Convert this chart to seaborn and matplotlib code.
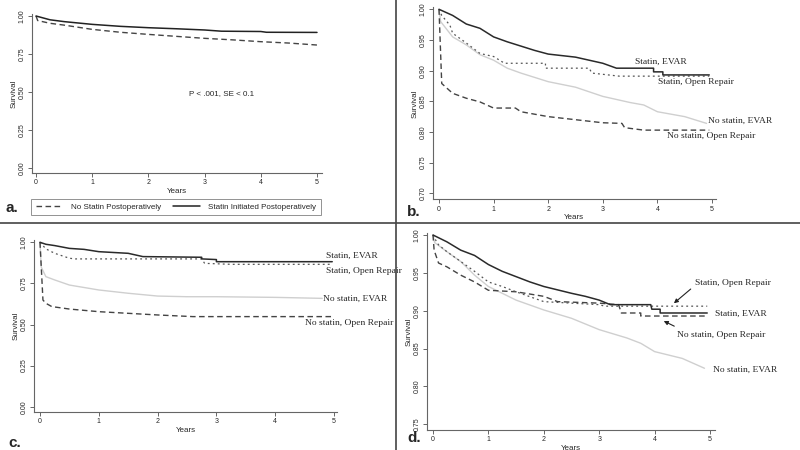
import pandas as pd
import matplotlib
matplotlib.use('Agg')
import matplotlib.pyplot as plt
from matplotlib.lines import Line2D
import seaborn as sns

# ---- Dados (curvas de sobrevida Kaplan-Meier) ----
# Painel a
a_t_statin = [0, 0.25, 0.5, 1, 1.5, 2, 2.5, 3, 3.3, 4, 4.1, 5]
a_s_statin = [1.0, 0.975, 0.963, 0.945, 0.932, 0.923, 0.916, 0.908, 0.900, 0.898, 0.893, 0.892]
a_t_nostatin = [0, 0.03, 0.25, 0.5, 1, 1.5, 2, 2.5, 3, 3.5, 4, 4.5, 5]
a_s_nostatin = [1.0, 0.97, 0.952, 0.94, 0.912, 0.893, 0.879, 0.866, 0.853, 0.843, 0.831, 0.822, 0.809]

# Painel b
b_t_se = [0, 0.25, 0.5, 0.75, 1, 1.25, 1.5, 1.75, 2, 2.5, 2.75, 3, 3.25, 3.93, 3.93, 4.1, 4.1, 4.95]
b_s_se = [1.0, 0.99, 0.976, 0.969, 0.955, 0.947, 0.94, 0.933, 0.927, 0.922, 0.917, 0.912, 0.904, 0.904, 0.898, 0.898, 0.893, 0.893]
b_t_so = [0, 0.05, 0.2, 0.25, 0.5, 0.75, 1, 1.2, 1.95, 1.95, 2.75, 2.8, 3.3, 4.95]
b_s_so = [1.0, 0.99, 0.974, 0.961, 0.945, 0.928, 0.923, 0.912, 0.912, 0.904, 0.904, 0.896, 0.891, 0.891]
b_t_ne = [0, 0.03, 0.25, 0.5, 0.75, 1, 1.25, 1.5, 2, 2.5, 3, 3.5, 3.75, 4, 4.5, 4.9]
b_s_ne = [1.0, 0.98, 0.955, 0.942, 0.926, 0.917, 0.904, 0.896, 0.882, 0.873, 0.858, 0.848, 0.844, 0.833, 0.825, 0.814]
b_t_no = [0, 0.05, 0.1, 0.25, 0.5, 0.75, 1, 1.4, 1.5, 2, 2.5, 3, 3.35, 3.4, 3.75, 4.95]
b_s_no = [1.0, 0.879, 0.875, 0.863, 0.855, 0.849, 0.839, 0.839, 0.833, 0.825, 0.82, 0.815, 0.814, 0.807, 0.803, 0.803]

# Painel c
c_t_se = [0, 0.1, 0.25, 0.5, 0.75, 1, 1.5, 1.75, 2.75, 2.75, 3, 3, 4.97]
c_s_se = [1.0, 0.988, 0.98, 0.963, 0.957, 0.943, 0.933, 0.913, 0.909, 0.899, 0.895, 0.882, 0.882]
c_t_so = [0, 0.1, 0.25, 0.5, 0.6, 2.75, 2.8, 3.25, 4.97]
c_s_so = [1.0, 0.96, 0.933, 0.903, 0.899, 0.899, 0.872, 0.866, 0.866]
c_t_ne = [0, 0.02, 0.1, 0.25, 0.5, 1, 1.5, 2, 2.5, 3, 4, 4.8]
c_s_ne = [1.0, 0.85, 0.791, 0.771, 0.74, 0.71, 0.69, 0.673, 0.669, 0.669, 0.665, 0.659]
c_t_no = [0, 0.05, 0.1, 0.2, 0.5, 1, 1.5, 2, 2.6, 4.97]
c_s_no = [1.0, 0.649, 0.629, 0.609, 0.594, 0.578, 0.568, 0.558, 0.548, 0.548]

# Painel d
d_t_se = [0, 0.25, 0.5, 0.75, 1, 1.25, 1.5, 1.75, 2, 2.5, 2.75, 3, 3.2, 3.93, 3.95, 4.1, 4.1, 4.95]
d_s_se = [1.0, 0.991, 0.98, 0.973, 0.961, 0.952, 0.945, 0.938, 0.932, 0.923, 0.919, 0.914, 0.908, 0.908, 0.902, 0.902, 0.897, 0.897]
d_t_so = [0, 0.05, 0.1, 0.25, 0.5, 0.75, 1, 1.25, 1.5, 2, 3, 3.1, 4.95]
d_s_so = [1.0, 0.993, 0.987, 0.978, 0.965, 0.952, 0.938, 0.932, 0.925, 0.912, 0.908, 0.906, 0.906]
d_t_ne = [0, 0.03, 0.25, 0.5, 0.75, 1, 1.5, 2, 2.5, 3, 3.5, 3.75, 4, 4.5, 4.9]
d_s_ne = [1.0, 0.99, 0.978, 0.965, 0.947, 0.932, 0.914, 0.901, 0.89, 0.875, 0.864, 0.857, 0.846, 0.837, 0.824]
d_t_no = [0, 0.02, 0.1, 0.25, 0.5, 0.75, 1, 1.5, 2, 2.25, 3, 3.35, 3.4, 3.75, 3.75, 4.95]
d_s_no = [1.0, 0.98, 0.963, 0.958, 0.947, 0.938, 0.927, 0.925, 0.919, 0.912, 0.91, 0.908, 0.897, 0.897, 0.893, 0.893]

grupos = ['Statin, EVAR', 'Statin, Open Repair', 'No statin, EVAR', 'No statin, Open Repair']

# estilos das linhas para cada grupo
estilo = {
    'Statin, EVAR': dict(color='#2a2a2a', linestyle='-', linewidth=1.1),
    'Statin, Open Repair': dict(color='#555555', linestyle=(0, (1.5, 2.5)), linewidth=0.9),
    'No statin, EVAR': dict(color='#cfcfcf', linestyle='-', linewidth=1.0),
    'No statin, Open Repair': dict(color='#444444', linestyle=(0, (4, 2.5)), linewidth=1.0),
}

sns.set_style('ticks')
plt.rcParams['font.family'] = ['Liberation Sans', 'DejaVu Sans']

W, H = 800, 450
fig = plt.figure(figsize=(8, 4.5), dpi=100)


def criar_eixo(x0, x5, xlim, ytop, ybot, vtop, vbot, ylim):
    # posiciona o eixo a partir das posicoes (em pixels) dos ticks
    px = (x5 - x0) / 5.0
    py = (ybot - ytop) / (vtop - vbot)
    esq = x0 + xlim[0] * px
    dir_ = x0 + xlim[1] * px
    topo = ytop - (ylim[1] - vtop) * py
    base = ybot + (vbot - ylim[0]) * py
    ax = fig.add_axes([esq / W, 1 - base / H, (dir_ - esq) / W, (base - topo) / H])
    ax.set_xlim(xlim)
    ax.set_ylim(ylim)
    sns.despine(ax=ax)
    for s in ['left', 'bottom']:
        ax.spines[s].set_color('#666666')
        ax.spines[s].set_linewidth(0.8)
    ax.tick_params(length=3, width=0.7, color='#666666', labelsize=5, pad=1.5)
    ax.set_xticks([0, 1, 2, 3, 4, 5])
    ax.set_xlabel('Years', fontsize=5.8, labelpad=1)
    ax.set_ylabel('Survival', fontsize=5.8, labelpad=1)
    return ax


def curva(ax, t, s, **kw):
    df = pd.DataFrame({'Years': t, 'Survival': s})
    sns.lineplot(data=df, x='Years', y='Survival', ax=ax, estimator=None, sort=False, **kw)


# ---- Painel a ----
ax_a = criar_eixo(36, 317, (-0.07, 5.09), 16, 168, 1.0, 0.0, (-0.033, 1.012))
ax_a.set_yticks([0, 0.25, 0.5, 0.75, 1.0])
ax_a.set_yticklabels(['0.00', '0.25', '0.50', '0.75', '1.00'], rotation=90, va='center')
curva(ax_a, a_t_nostatin, a_s_nostatin, color='#444444', linestyle=(0, (4, 2.5)),
      linewidth=1.0, label='No Statin Postoperatively')
curva(ax_a, a_t_statin, a_s_statin, color='#222222', linestyle='-',
      linewidth=1.1, label='Statin Initiated Postoperatively')
ax_a.text(3.3, 0.49, 'P < .001, SE < 0.1', fontsize=5.8, ha='center', va='center')
leg = ax_a.legend(loc='center', bbox_to_anchor=(176 / W, 1 - 207 / H), bbox_transform=fig.transFigure,
                  ncol=2, fontsize=5.8, frameon=True, fancybox=False, edgecolor='#777777',
                  handlelength=3.4, columnspacing=1.4, borderpad=0.55, handletextpad=1.0)
leg.get_frame().set_linewidth(0.7)

# ---- Paineis b, c, d ----
ax_b = criar_eixo(439, 712, (-0.11, 5.07), 9.3, 193.3, 1.0, 0.70, (0.69, 1.003))
ax_b.set_yticks([0.70, 0.75, 0.80, 0.85, 0.90, 0.95, 1.00])
ax_b.set_yticklabels(['0.70', '0.75', '0.80', '0.85', '0.90', '0.95', '1.00'], rotation=90, va='center')

ax_c = criar_eixo(40, 334, (-0.10, 5.05), 242.3, 406.7, 1.0, 0.0, (-0.032, 1.012))
ax_c.set_yticks([0, 0.25, 0.5, 0.75, 1.0])
ax_c.set_yticklabels(['0.00', '0.25', '0.50', '0.75', '1.00'], rotation=90, va='center')

ax_d = criar_eixo(433, 710, (-0.11, 5.09), 235, 424.3, 1.0, 0.75, (0.7425, 1.003))
ax_d.set_yticks([0.75, 0.80, 0.85, 0.90, 0.95, 1.00])
ax_d.set_yticklabels(['0.75', '0.80', '0.85', '0.90', '0.95', '1.00'], rotation=90, va='center')

dados = {
    ax_b: [(b_t_se, b_s_se), (b_t_so, b_s_so), (b_t_ne, b_s_ne), (b_t_no, b_s_no)],
    ax_c: [(c_t_se, c_s_se), (c_t_so, c_s_so), (c_t_ne, c_s_ne), (c_t_no, c_s_no)],
    ax_d: [(d_t_se, d_s_se), (d_t_so, d_s_so), (d_t_ne, d_s_ne), (d_t_no, d_s_no)],
}
for ax, series in dados.items():
    # desenha primeiro a curva clara, depois as escuras
    for i in [2, 3, 1, 0]:
        t, s = series[i]
        curva(ax, t, s, **estilo[grupos[i]])

# rotulos das curvas (fonte serifada, como no original)
serif = dict(family=['Liberation Serif', 'DejaVu Serif'], fontsize=6.8, va='center', ha='left')
ax_b.text(3.59, 0.914, 'Statin, EVAR', **serif)
ax_b.text(4.01, 0.881, 'Statin, Open Repair', **serif)
ax_b.text(4.93, 0.818, 'No statin, EVAR', **serif)
ax_b.text(4.18, 0.793, 'No statin, Open Repair', **serif)

ax_c.text(4.86, 0.917, 'Statin, EVAR', **serif)
ax_c.text(4.86, 0.825, 'Statin, Open Repair', **serif)
ax_c.text(4.81, 0.655, 'No statin, EVAR', **serif)
ax_c.text(4.51, 0.509, 'No statin, Open Repair', **serif)

ax_d.text(4.73, 0.937, 'Statin, Open Repair', **serif)
ax_d.text(5.09, 0.896, 'Statin, EVAR', **serif)
ax_d.text(4.40, 0.868, 'No statin, Open Repair', **serif)
ax_d.text(5.05, 0.822, 'No statin, EVAR', **serif)
seta = dict(arrowstyle='-|>', color='#222222', lw=0.8, mutation_scale=6)
ax_d.annotate('', xy=(4.31, 0.9075), xytext=(4.69, 0.931), arrowprops=seta, annotation_clip=False)
ax_d.annotate('', xy=(4.12, 0.888), xytext=(4.40, 0.878), arrowprops=seta, annotation_clip=False)

for ax in [ax_b, ax_c, ax_d]:
    for t in ax.texts:
        t.set_clip_on(False)

# letras dos paineis
for letra, x, y in [('a.', 5, 208), ('b.', 407, 212), ('c.', 8, 443), ('d.', 407, 438)]:
    fig.text(x / W, 1 - y / H, letra, fontsize=11, fontweight='bold', va='center', ha='left')

# linhas divisorias entre os paineis
fig.add_artist(Line2D([0, 1], [1 - 223 / H, 1 - 223 / H], color='#444444', lw=1.2))
fig.add_artist(Line2D([396 / W, 396 / W], [0, 1], color='#444444', lw=1.2))

fig.savefig('out.png', dpi=100, facecolor='white')
